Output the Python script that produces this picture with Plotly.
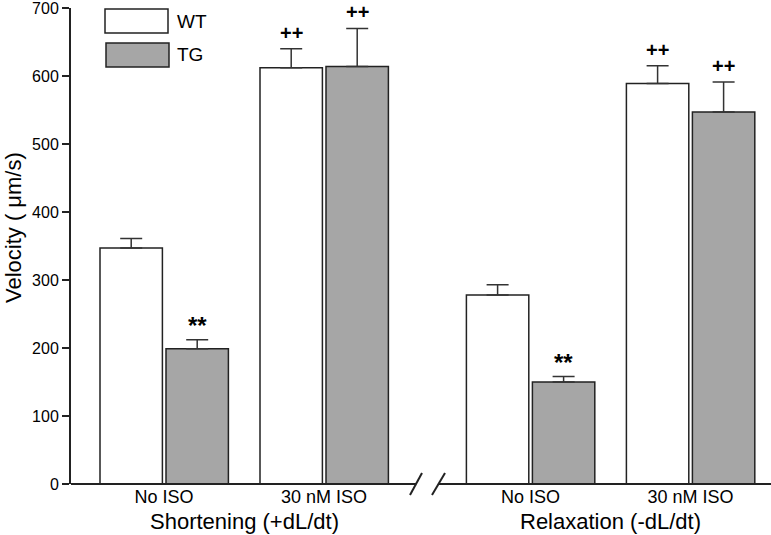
import plotly.graph_objects as go

groups = ["No ISO", "30 nM ISO", "No ISO", "30 nM ISO"]
group_pos = [0, 1, 2.29, 3.29]
panel_titles = ["Shortening (+dL/dt)", "Relaxation (-dL/dt)"]
wt_values = [347, 612, 278, 589]
wt_err = [14, 28, 15, 26]
tg_values = [199, 614, 150, 547]
tg_err = [13, 56, 8, 44]
wt_marks = ["", "++", "", "++"]
tg_marks = ["**", "++", "**", "++"]
y_ticks = [0, 100, 200, 300, 400, 500, 600, 700]

FONT = "Liberation Sans, Arial, sans-serif"
DARK = "#222222"
GRAY = "#a6a6a6"

W, H = 771, 535
ML, MR, MT, MB = 71, 0, 8, 51
PW, PH = W - ML - MR, H - MT - MB

def px(xp):
    return (xp - ML) / PW

def py(yp):
    return (H - MB - yp) / PH

fig = go.Figure()
fig.add_trace(go.Bar(
    x=group_pos, y=wt_values, width=0.39, offset=-0.4,
    marker=dict(color="white", line=dict(color=DARK, width=1.5)),
    error_y=dict(type="data", array=wt_err, arrayminus=[0] * 4, symmetric=False,
                 color="#333333", thickness=1.5, width=11),
    name="WT", showlegend=False,
))
fig.add_trace(go.Bar(
    x=group_pos, y=tg_values, width=0.39, offset=0.0125,
    marker=dict(color=GRAY, line=dict(color=DARK, width=1.5)),
    error_y=dict(type="data", array=tg_err, arrayminus=[0] * 4, symmetric=False,
                 color="#333333", thickness=1.5, width=11),
    name="TG", showlegend=False,
))

annotations = []
for i, g in enumerate(group_pos):
    if wt_marks[i]:
        annotations.append(dict(x=g - 0.4 + 0.195, y=wt_values[i] + wt_err[i], text=f"<b>{wt_marks[i]}</b>",
                                showarrow=False, yanchor="middle", yshift=16,
                                font=dict(family=FONT, size=20, color="black")))
    if tg_marks[i]:
        sz = 24 if tg_marks[i] == "**" else 20
        ys = 14 if tg_marks[i] == "**" else 16
        annotations.append(dict(x=g + 0.0125 + 0.195, y=tg_values[i] + tg_err[i], text=f"<b>{tg_marks[i]}</b>",
                                showarrow=False, yanchor="middle", yshift=ys,
                                font=dict(family=FONT, size=sz, color="black")))

# panel titles
annotations.append(dict(x=(group_pos[0] + group_pos[1]) / 2, y=py(521), xref="x", yref="paper",
                        text=panel_titles[0], showarrow=False, yanchor="middle",
                        font=dict(family=FONT, size=22, color="black")))
annotations.append(dict(x=(group_pos[2] + group_pos[3]) / 2, y=py(521), xref="x", yref="paper",
                        text=panel_titles[1], showarrow=False, yanchor="middle",
                        font=dict(family=FONT, size=22, color="black")))
# y title
annotations.append(dict(x=px(13), y=py(228), xref="paper", yref="paper", text="Velocity ( μm/s)",
                        textangle=-90, showarrow=False, xanchor="center", yanchor="middle",
                        font=dict(family=FONT, size=22, color="black")))
# legend text
annotations.append(dict(x=px(175), y=py(21), xref="paper", yref="paper", text="WT", showarrow=False,
                        xanchor="left", yanchor="middle", font=dict(family=FONT, size=19, color="black")))
annotations.append(dict(x=px(175), y=py(55), xref="paper", yref="paper", text="TG", showarrow=False,
                        xanchor="left", yanchor="middle", font=dict(family=FONT, size=19, color="black")))

shapes = [
    # legend boxes
    dict(type="rect", xref="paper", yref="paper", x0=px(105), x1=px(168), y0=py(33), y1=py(9),
         fillcolor="white", line=dict(color=DARK, width=1.5)),
    dict(type="rect", xref="paper", yref="paper", x0=px(106), x1=px(169), y0=py(67), y1=py(43),
         fillcolor=GRAY, line=dict(color=DARK, width=1.5)),
    # broken x axis
    dict(type="line", xref="paper", yref="paper", x0=0, x1=px(416), y0=0, y1=0,
         line=dict(color=DARK, width=2)),
    dict(type="line", xref="paper", yref="paper", x0=px(438), x1=1, y0=0, y1=0,
         line=dict(color=DARK, width=2)),
    dict(type="line", xref="paper", yref="paper", x0=px(410), x1=px(422), y0=py(495), y1=py(473),
         line=dict(color=DARK, width=2)),
    dict(type="line", xref="paper", yref="paper", x0=px(432), x1=px(445), y0=py(495), y1=py(473),
         line=dict(color=DARK, width=2)),
]

fig.update_layout(
    width=W, height=H,
    margin=dict(l=ML, r=MR, t=MT, b=MB, pad=0, autoexpand=False),
    plot_bgcolor="white", paper_bgcolor="white",
    showlegend=False,
    annotations=annotations, shapes=shapes,
    font=dict(family=FONT, color="black"),
    xaxis=dict(range=[-0.58125, 3.79375], showline=False, showgrid=False, zeroline=False,
               automargin=False,
               ticks="", tickvals=group_pos, ticktext=groups,
               tickfont=dict(family=FONT, size=18, color="black")),
    yaxis=dict(range=[0, 700], tickvals=y_ticks, showline=True, linecolor=DARK, linewidth=2,
               automargin=False, ticklabeloverflow="allow",
               ticks="outside", ticklen=7, tickwidth=2, tickcolor=DARK, showgrid=False,
               zeroline=False, tickfont=dict(family=FONT, size=16, color="black")),
)

fig.write_html("out.html", config={"displayModeBar": False},
               post_script="document.body.style.margin='0';document.body.style.padding='0';")
